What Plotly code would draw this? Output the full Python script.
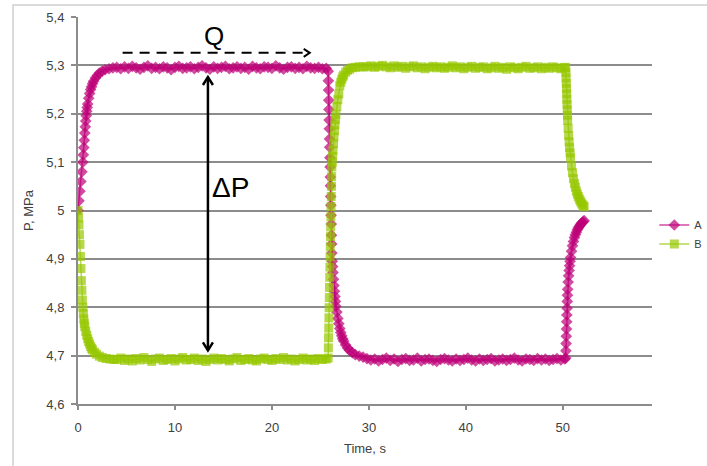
import plotly.graph_objects as go

# ---------------- data ----------------
# start transients (separate time stamps for each series)
tA0 = [0, 0.1, 0.2, 0.3, 0.4, 0.5, 0.55, 0.6, 0.65, 0.7, 0.75, 0.8, 0.85, 0.9, 0.95,
       1.0, 1.1, 1.2, 1.3, 1.4, 1.5, 1.6, 1.8, 2.0, 2.2, 2.5, 2.8, 3.2, 3.6]
pA0 = [5.000, 5.020, 5.040, 5.060, 5.080, 5.100, 5.115, 5.130, 5.145, 5.160, 5.173, 5.185,
       5.196, 5.205, 5.213, 5.220, 5.232, 5.242, 5.250, 5.256, 5.262, 5.267, 5.274, 5.279,
       5.284, 5.288, 5.291, 5.293, 5.295]
tB0 = [0, 0.05, 0.1, 0.15, 0.2, 0.25, 0.3, 0.35, 0.4, 0.45, 0.5, 0.55, 0.6, 0.65, 0.7,
       0.8, 0.9, 1.0, 1.1, 1.2, 1.3, 1.4, 1.5, 1.7, 1.9, 2.2, 2.5, 2.9, 3.3, 3.7]
pB0 = [5.000, 4.985, 4.970, 4.950, 4.930, 4.905, 4.880, 4.855, 4.835, 4.815, 4.800, 4.787,
       4.776, 4.767, 4.760, 4.750, 4.742, 4.735, 4.729, 4.724, 4.719, 4.715, 4.712, 4.707,
       4.703, 4.699, 4.696, 4.694, 4.693, 4.692]

# first plateau
t_flat1 = [4.0, 4.4, 4.8, 5.2, 5.6, 6.0, 6.4, 6.8, 7.2, 7.6, 8.0, 8.4, 8.8, 9.2, 9.6,
           10.0, 10.4, 10.8, 11.2, 11.6, 12.0, 12.4, 12.8, 13.2, 13.6, 14.0, 14.4, 14.8,
           15.2, 15.6, 16.0, 16.4, 16.8, 17.2, 17.6, 18.0, 18.4, 18.8, 19.2, 19.6, 20.0,
           20.4, 20.8, 21.2, 21.6, 22.0, 22.4, 22.8, 23.2, 23.6, 24.0, 24.4, 24.8, 25.2, 25.6]
pA_flat1 = [5.296, 5.293, 5.297, 5.294, 5.298, 5.295, 5.292, 5.296, 5.299, 5.294,
            5.296, 5.293, 5.297, 5.295, 5.291, 5.296, 5.298, 5.294, 5.295, 5.297,
            5.293, 5.296, 5.299, 5.295, 5.292, 5.297, 5.294, 5.296, 5.298, 5.293,
            5.295, 5.297, 5.294, 5.296, 5.292, 5.298, 5.295, 5.293, 5.297, 5.296,
            5.294, 5.299, 5.295, 5.292, 5.296, 5.297, 5.294, 5.296, 5.293, 5.298,
            5.295, 5.294, 5.296, 5.293, 5.294]
pB_flat1 = [4.692, 4.695, 4.690, 4.693, 4.689, 4.694, 4.691, 4.696, 4.692, 4.688,
            4.693, 4.695, 4.690, 4.692, 4.694, 4.689, 4.693, 4.696, 4.691, 4.692,
            4.695, 4.690, 4.693, 4.688, 4.692, 4.695, 4.691, 4.694, 4.692, 4.689,
            4.693, 4.696, 4.690, 4.692, 4.694, 4.691, 4.689, 4.693, 4.695, 4.692,
            4.690, 4.694, 4.692, 4.696, 4.691, 4.693, 4.689, 4.692, 4.695, 4.691,
            4.693, 4.690, 4.694, 4.692, 4.693]

# first switch
t1 = [25.80, 25.82, 25.84, 25.86, 25.88, 25.90, 25.92, 25.94, 25.96, 25.98, 26.00, 26.02,
      26.04, 26.06, 26.08, 26.10, 26.12, 26.14, 26.16, 26.18, 26.22, 26.26, 26.3, 26.35,
      26.4, 26.45, 26.5, 26.55, 26.6, 26.7, 26.8, 26.9, 27.0, 27.1, 27.2, 27.3, 27.4, 27.6,
      27.8, 28.0, 28.3, 28.6, 29.0, 29.4]
pA1 = [5.288, 5.268, 5.249, 5.228, 5.209, 5.187, 5.169, 5.148, 5.131, 5.109, 5.090, 5.069,
       5.051, 5.029, 5.011, 4.990, 4.972, 4.949, 4.931, 4.912, 4.895, 4.884, 4.872, 4.858,
       4.845, 4.833, 4.822, 4.812, 4.802, 4.790, 4.777, 4.766, 4.756, 4.748, 4.741, 4.735,
       4.730, 4.722, 4.716, 4.711, 4.706, 4.702, 4.699, 4.697]
pB1 = [4.695, 4.716, 4.737, 4.757, 4.778, 4.799, 4.820, 4.841, 4.862, 4.883, 4.904, 4.925,
       4.946, 4.966, 4.987, 5.008, 5.029, 5.050, 5.070, 5.090, 5.100, 5.112, 5.124, 5.138,
       5.152, 5.165, 5.177, 5.188, 5.198, 5.215, 5.229, 5.241, 5.258, 5.265, 5.271, 5.276,
       5.280, 5.286, 5.290, 5.292, 5.295, 5.296, 5.297, 5.297]

# second plateau
t_flat2 = [29.8, 30.2, 30.6, 31.0, 31.4, 31.8, 32.2, 32.6, 33.0, 33.4, 33.8, 34.2, 34.6,
           35.0, 35.4, 35.8, 36.2, 36.6, 37.0, 37.4, 37.8, 38.2, 38.6, 39.0, 39.4, 39.8,
           40.2, 40.6, 41.0, 41.4, 41.8, 42.2, 42.6, 43.0, 43.4, 43.8, 44.2, 44.6, 45.0,
           45.4, 45.8, 46.2, 46.6, 47.0, 47.4, 47.8, 48.2, 48.6, 49.0, 49.4, 49.8, 50.2]
pA_flat2 = [4.694, 4.691, 4.693, 4.689, 4.692, 4.695, 4.690, 4.693, 4.688, 4.692,
            4.694, 4.690, 4.691, 4.695, 4.689, 4.692, 4.693, 4.690, 4.688, 4.692,
            4.694, 4.691, 4.689, 4.693, 4.690, 4.692, 4.695, 4.691, 4.689, 4.693,
            4.690, 4.692, 4.694, 4.689, 4.691, 4.693, 4.690, 4.692, 4.695, 4.691,
            4.689, 4.693, 4.692, 4.690, 4.694, 4.691, 4.693, 4.690, 4.692, 4.694,
            4.691, 4.693]
pB_flat2 = [5.297, 5.299, 5.296, 5.298, 5.300, 5.297, 5.295, 5.299, 5.296, 5.298,
            5.294, 5.297, 5.299, 5.295, 5.297, 5.293, 5.296, 5.298, 5.295, 5.297,
            5.294, 5.296, 5.299, 5.295, 5.297, 5.293, 5.296, 5.298, 5.294, 5.296,
            5.297, 5.293, 5.295, 5.298, 5.294, 5.296, 5.292, 5.297, 5.295, 5.293,
            5.296, 5.298, 5.294, 5.295, 5.297, 5.293, 5.296, 5.294, 5.297, 5.295,
            5.293, 5.296]

# second switch
t2 = [50.30, 50.32, 50.34, 50.36, 50.38, 50.40, 50.42, 50.44, 50.46, 50.48, 50.50, 50.55,
      50.6, 50.65, 50.7, 50.75, 50.8, 50.9, 51.0, 51.1, 51.2, 51.3, 51.4, 51.5, 51.6, 51.7,
      51.8, 51.9, 52.0, 52.1, 52.2]
pA2 = [4.695, 4.710, 4.725, 4.740, 4.755, 4.770, 4.784, 4.798, 4.812, 4.825, 4.837, 4.852,
       4.865, 4.876, 4.886, 4.895, 4.903, 4.916, 4.927, 4.936, 4.944, 4.950, 4.955, 4.960,
       4.964, 4.967, 4.970, 4.973, 4.975, 4.977, 4.979]
pB2 = [5.295, 5.285, 5.274, 5.263, 5.252, 5.241, 5.230, 5.219, 5.208, 5.197, 5.186, 5.170,
       5.155, 5.142, 5.130, 5.119, 5.109, 5.092, 5.078, 5.066, 5.056, 5.048, 5.040, 5.034,
       5.029, 5.024, 5.020, 5.016, 5.013, 5.010, 5.008]

y_ticks = [4.6, 4.7, 4.8, 4.9, 5.0, 5.1, 5.2, 5.3, 5.4]
y_tick_labels = ["4,6", "4,7", "4,8", "4,9", "5", "5,1", "5,2", "5,3", "5,4"]
x_ticks = [0, 10, 20, 30, 40, 50]
x_tick_labels = ["0", "10", "20", "30", "40", "50"]

# ---------------- build series ----------------
tA = tA0 + t_flat1 + t1 + t_flat2 + t2
pA = pA0 + pA_flat1 + pA1 + pA_flat2 + pA2
tB = tB0 + t_flat1 + t1 + t_flat2 + t2
pB = pB0 + pB_flat1 + pB1 + pB_flat2 + pB2

FONT = "Liberation Sans, Arial, sans-serif"
A_COL = "rgba(190,0,120,0.7)"
B_COL = "rgba(150,200,0,0.7)"

fig = go.Figure()
fig.add_trace(go.Scatter(x=tA, y=pA, name="A", mode="lines+markers",
                         line=dict(color=A_COL, width=1.5),
                         marker=dict(symbol="diamond", size=9, color=A_COL, line=dict(width=0))))
fig.add_trace(go.Scatter(x=tB, y=pB, name="B", mode="lines+markers",
                         line=dict(color=B_COL, width=1.5),
                         marker=dict(symbol="square", size=9, color=B_COL, line=dict(width=0))))

AX = "#8c8c8c"
fig.update_xaxes(range=[0, 59.2], tickvals=x_ticks, ticktext=x_tick_labels, automargin=False,
                 showgrid=False, zeroline=False, showline=True, linecolor=AX, linewidth=2,
                 ticks="outside", ticklen=4, tickwidth=1.5, tickcolor=AX, ticklabelstandoff=6,
                 tickfont=dict(family=FONT, size=13, color="#404040"),
                 title=dict(text="Time, s", font=dict(family=FONT, size=13, color="#404040"), standoff=10))
fig.update_yaxes(range=[4.6, 5.4], tickvals=y_ticks, ticktext=y_tick_labels, automargin=False,
                 showgrid=True, gridcolor=AX, gridwidth=1.5, zeroline=False,
                 showline=True, linecolor=AX, linewidth=2,
                 ticks="outside", ticklen=5, tickwidth=1.5, tickcolor=AX, ticklabelstandoff=4,
                 tickfont=dict(family=FONT, size=13, color="#404040"),
                 title=dict(text="P, MPa", font=dict(family=FONT, size=13, color="#404040"), standoff=10))

shapes = [
    # chart-area border (cropped on right/bottom)
    dict(type="rect", xref="paper", yref="paper", x0=-0.1132, x1=1.3, y0=-0.4, y1=1.031,
         line=dict(color="#cfcfcf", width=1.5), fillcolor="rgba(0,0,0,0)", layer="below"),
    # ΔP double arrow
    dict(type="line", xref="x", yref="y", x0=13.4, x1=13.4, y0=4.711, y1=5.276,
         line=dict(color="black", width=2.5)),
    dict(type="path", xref="x", yref="y", xsizemode="pixel", ysizemode="pixel",
         xanchor=13.4, yanchor=5.276, path="M -5,-8 L 0,0 L 5,-8",
         line=dict(color="black", width=2.5)),
    dict(type="path", xref="x", yref="y", xsizemode="pixel", ysizemode="pixel",
         xanchor=13.4, yanchor=4.711, path="M -5,8 L 0,0 L 5,8",
         line=dict(color="black", width=2.5)),
    # Q dashed arrow
    dict(type="line", xref="x", yref="y", x0=4.6, x1=23.8, y0=5.326, y1=5.326,
         line=dict(color="black", width=2, dash="10px,7px")),
    dict(type="path", xref="x", yref="y", xsizemode="pixel", ysizemode="pixel",
         xanchor=23.9, yanchor=5.326, path="M -6,4 L 0,0 L -6,-4",
         line=dict(color="black", width=2)),
]

annotations = [
    dict(x=14.0, y=5.361, xref="x", yref="y", text="Q", showarrow=False,
         font=dict(family=FONT, size=26, color="black")),
    dict(x=15.75, y=5.047, xref="x", yref="y", text="ΔP", showarrow=False,
         font=dict(family=FONT, size=28, color="black")),
]

fig.update_layout(
    width=707, height=466,
    margin=dict(l=78, r=55, t=17, b=62, autoexpand=False),
    paper_bgcolor="white", plot_bgcolor="white",
    showlegend=True,
    legend=dict(x=1.004, y=0.5, xanchor="left", yanchor="top",
                font=dict(family=FONT, size=11, color="#404040"),
                bgcolor="rgba(0,0,0,0)", itemwidth=30),
    shapes=shapes, annotations=annotations,
)

fig.write_html("out.html", config={"displayModeBar": False},
               post_script="document.body.style.margin='0';document.body.style.overflow='hidden';")
